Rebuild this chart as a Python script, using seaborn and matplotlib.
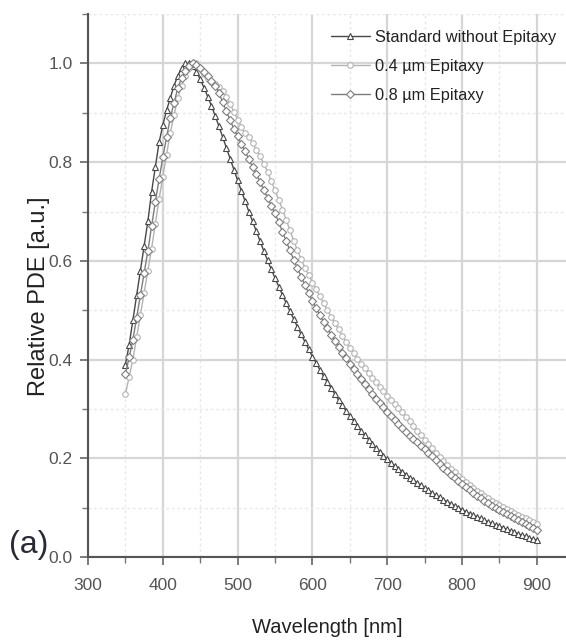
import matplotlib
matplotlib.use("Agg")
import matplotlib.pyplot as plt
from matplotlib import font_manager
from matplotlib.ticker import MultipleLocator
import pandas as pd
import seaborn as sns

# Wavelength axis (nm), sampled every 5 nm
wavelength_nm = list(range(350, 905, 5))

series_names = ["Standard without Epitaxy", "0.4 \u00b5m Epitaxy", "0.8 \u00b5m Epitaxy"]

# Relative PDE, one row per 50 nm (350-395, 400-445, ...)
pde_standard = [
    0.390, 0.430, 0.480, 0.530, 0.580, 0.630, 0.680, 0.740, 0.790, 0.840,
    0.875, 0.905, 0.930, 0.955, 0.975, 0.990, 1.000, 1.000, 0.995, 0.983,
    0.968, 0.951, 0.933, 0.914, 0.894, 0.873, 0.851, 0.829, 0.807, 0.785,
    0.763, 0.742, 0.721, 0.700, 0.680, 0.660, 0.640, 0.620, 0.601, 0.583,
    0.565, 0.548, 0.531, 0.514, 0.498, 0.482, 0.466, 0.451, 0.436, 0.421,
    0.406, 0.393, 0.379, 0.366, 0.354, 0.342, 0.330, 0.318, 0.307, 0.296,
    0.286, 0.276, 0.266, 0.256, 0.247, 0.238, 0.229, 0.221, 0.213, 0.205,
    0.198, 0.191, 0.185, 0.179, 0.173, 0.167, 0.161, 0.156, 0.150, 0.145,
    0.140, 0.135, 0.130, 0.125, 0.121, 0.116, 0.112, 0.108, 0.104, 0.100,
    0.096, 0.092, 0.088, 0.085, 0.081, 0.078, 0.075, 0.071, 0.068, 0.065,
    0.062, 0.059, 0.056, 0.053, 0.050, 0.047, 0.044, 0.042, 0.039, 0.036,
    0.034,
]

pde_epi_04 = [
    0.330, 0.365, 0.400, 0.445, 0.490, 0.535, 0.580, 0.625, 0.675, 0.725,
    0.770, 0.815, 0.860, 0.895, 0.930, 0.955, 0.975, 0.990, 1.000, 1.000,
    0.990, 0.978, 0.968, 0.962, 0.958, 0.953, 0.945, 0.933, 0.918, 0.902,
    0.886, 0.872, 0.859, 0.850, 0.838, 0.825, 0.812, 0.797, 0.780, 0.762,
    0.743, 0.724, 0.704, 0.683, 0.662, 0.641, 0.621, 0.603, 0.586, 0.571,
    0.556, 0.542, 0.528, 0.514, 0.500, 0.487, 0.474, 0.461, 0.448, 0.436,
    0.424, 0.413, 0.402, 0.392, 0.382, 0.372, 0.363, 0.354, 0.345, 0.336,
    0.327, 0.318, 0.310, 0.302, 0.294, 0.284, 0.275, 0.265, 0.256, 0.247,
    0.238, 0.229, 0.220, 0.211, 0.203, 0.195, 0.187, 0.179, 0.172, 0.165,
    0.158, 0.152, 0.146, 0.140, 0.134, 0.129, 0.124, 0.119, 0.114, 0.110,
    0.106, 0.102, 0.098, 0.094, 0.090, 0.086, 0.082, 0.078, 0.074, 0.070,
    0.066,
]

pde_epi_08 = [
    0.370, 0.405, 0.440, 0.485, 0.530, 0.575, 0.620, 0.670, 0.720, 0.765,
    0.810, 0.850, 0.890, 0.920, 0.950, 0.970, 0.985, 0.995, 1.000, 0.997,
    0.990, 0.982, 0.975, 0.965, 0.955, 0.940, 0.922, 0.903, 0.885, 0.868,
    0.852, 0.837, 0.822, 0.806, 0.790, 0.776, 0.760, 0.744, 0.728, 0.712,
    0.696, 0.678, 0.659, 0.640, 0.621, 0.602, 0.585, 0.568, 0.551, 0.535,
    0.519, 0.504, 0.490, 0.476, 0.463, 0.450, 0.438, 0.426, 0.414, 0.403,
    0.392, 0.381, 0.370, 0.360, 0.350, 0.340, 0.330, 0.321, 0.312, 0.303,
    0.294, 0.286, 0.278, 0.270, 0.262, 0.254, 0.246, 0.239, 0.232, 0.225,
    0.218, 0.211, 0.204, 0.196, 0.188, 0.181, 0.174, 0.167, 0.160, 0.153,
    0.147, 0.141, 0.135, 0.129, 0.124, 0.119, 0.114, 0.109, 0.104, 0.099,
    0.095, 0.091, 0.087, 0.083, 0.079, 0.075, 0.071, 0.067, 0.063, 0.059,
    0.055,
]

x_ticks = [300, 400, 500, 600, 700, 800, 900]
y_ticks = [0.0, 0.2, 0.4, 0.6, 0.8, 1.0]

sns.set_theme(style="white")
installed = {f.name for f in font_manager.fontManager.ttflist}
narrow = "Liberation Sans Narrow" if "Liberation Sans Narrow" in installed else "Liberation Sans"
plt.rcParams["font.family"] = [narrow, "DejaVu Sans"]

frames = []
for name, vals in zip(series_names, [pde_standard, pde_epi_04, pde_epi_08]):
    frames.append(pd.DataFrame({"wavelength": wavelength_nm, "pde": vals, "sample": name}))
df = pd.concat(frames, ignore_index=True)

palette = {series_names[0]: "#474747", series_names[1]: "#b3b3b3", series_names[2]: "#7d7d7d"}
markers = {series_names[0]: "^", series_names[1]: "o", series_names[2]: "D"}

fig = plt.figure(figsize=(5.66, 6.40), dpi=100)
ax = fig.add_axes([0.1555, 0.1297, 0.8445, 0.8483])

sns.lineplot(
    data=df, x="wavelength", y="pde", hue="sample", style="sample",
    hue_order=series_names, style_order=series_names,
    palette=palette, markers=markers, dashes=False, estimator=None,
    linewidth=1.0, markersize=4, legend=False, ax=ax, zorder=3,
)

# open markers outlined in each series' own colour
handles = ax.get_lines()[:3]
for line in handles:
    line.set_linestyle("-")
    line.set_markerfacecolor("white")
    line.set_markeredgecolor(line.get_color())
    line.set_markeredgewidth(0.8)

ax.set_xlim(300, 939)
ax.set_ylim(0, 1.1)
ax.set_xticks(x_ticks)
ax.set_yticks(y_ticks)
ax.set_xticklabels([str(t) for t in x_ticks])
ax.set_yticklabels([f"{t:.1f}" for t in y_ticks])
ax.xaxis.set_minor_locator(MultipleLocator(50))
ax.yaxis.set_minor_locator(MultipleLocator(0.1))

ax.grid(which="major", color="#d6d6d6", linewidth=1.6)
ax.grid(which="minor", color="#e8e8e8", linewidth=1.0, linestyle=(0, (2, 2)))
ax.set_axisbelow(True)

for side in ["top", "right"]:
    ax.spines[side].set_visible(False)
for side in ["left", "bottom"]:
    ax.spines[side].set_color("#555555")
    ax.spines[side].set_linewidth(1.5)

ax.tick_params(axis="x", which="major", pad=9)
ax.tick_params(axis="y", which="major", pad=5)
ax.tick_params(which="major", direction="out", length=6, width=1.2, color="#666666",
               labelsize=12.5, labelcolor="#555555", bottom=True, left=True)
ax.tick_params(which="minor", direction="out", length=4, width=1.0, color="#777777",
               bottom=True, left=True)

ax.set_xlabel("Wavelength [nm]", fontsize=14.5, color="#222222", labelpad=18)
ax.set_ylabel("Relative PDE [a.u.]", fontsize=17, color="#222222",
              family=["Liberation Sans", "DejaVu Sans"])
ax.yaxis.set_label_coords(-0.08, 0.48)

ax.legend(handles, series_names, loc="upper left", bbox_to_anchor=(0.584, 0.953),
          bbox_transform=fig.transFigure, frameon=False, fontsize=11.8,
          handlelength=2.4, handletextpad=0.3, labelspacing=0.85, borderpad=0,
          borderaxespad=0, labelcolor="#222222")

fig.text(0.016, 0.148, "(a)", fontsize=23, color="#2a2a35",
         family=["Liberation Sans", "DejaVu Sans"], ha="left", va="center")

fig.savefig("out.png", dpi=100)
